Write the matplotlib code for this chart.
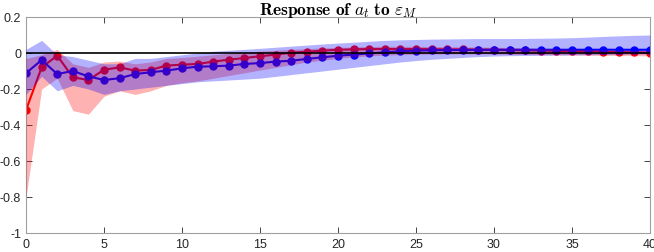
import numpy as np
import matplotlib
matplotlib.use("Agg")
import matplotlib.pyplot as plt

plt.rcParams['mathtext.fontset'] = 'cm'
plt.rcParams['font.family'] = ['Liberation Sans', 'DejaVu Sans']

horizon = list(range(41))

red_irf = [-0.317, -0.08, -0.015, -0.135, -0.15, -0.093, -0.08, -0.098, -0.094, -0.07,
           -0.065, -0.061, -0.048, -0.037, -0.028, -0.018, -0.009, 0.002, 0.007, 0.013,
           0.018, 0.02, 0.022, 0.022, 0.022, 0.022, 0.021, 0.02, 0.02, 0.019,
           0.018, 0.016, 0.015, 0.013, 0.012, 0.010, 0.009, 0.007, 0.005, 0.004, 0.002]
red_upper = [-0.03, -0.01, 0.02, -0.06, -0.08, -0.05, -0.045, -0.06, -0.05, -0.03,
             -0.025, -0.018, -0.01, -0.002, 0.005, 0.01, 0.015, 0.02, 0.024, 0.028,
             0.031, 0.034, 0.036, 0.037, 0.037, 0.037, 0.036, 0.035, 0.034, 0.033,
             0.032, 0.030, 0.028, 0.026, 0.024, 0.022, 0.020, 0.018, 0.016, 0.014, 0.012]
red_lower = [-0.80, -0.20, -0.14, -0.32, -0.34, -0.24, -0.21, -0.23, -0.21, -0.18,
             -0.165, -0.155, -0.14, -0.125, -0.11, -0.095, -0.08, -0.065, -0.05, -0.04,
             -0.03, -0.022, -0.016, -0.012, -0.009, -0.007, -0.006, -0.005, -0.005, -0.005,
             -0.006, -0.007, -0.008, -0.009, -0.01, -0.011, -0.012, -0.013, -0.014, -0.015, -0.016]

blue_irf = [-0.112, -0.039, -0.117, -0.10, -0.13, -0.15, -0.14, -0.117, -0.107, -0.098,
            -0.085, -0.076, -0.074, -0.07, -0.061, -0.056, -0.048, -0.043, -0.033, -0.024,
            -0.015, -0.009, -0.002, 0.004, 0.01, 0.013, 0.015, 0.016, 0.017, 0.017,
            0.018, 0.018, 0.018, 0.018, 0.018, 0.018, 0.018, 0.018, 0.018, 0.018, 0.018]
blue_upper = [0.02, 0.07, -0.01, -0.02, -0.04, -0.06, -0.06, -0.03, -0.03, -0.02,
              -0.01, 0.0, 0.01, 0.015, 0.02, 0.026, 0.032, 0.038, 0.044, 0.05,
              0.055, 0.06, 0.065, 0.07, 0.073, 0.075, 0.077, 0.078, 0.079, 0.08,
              0.08, 0.08, 0.081, 0.082, 0.083, 0.085, 0.088, 0.092, 0.095, 0.098, 0.10]
blue_lower = [-0.23, -0.13, -0.21, -0.18, -0.20, -0.23, -0.21, -0.20, -0.19, -0.18,
              -0.17, -0.16, -0.155, -0.15, -0.145, -0.14, -0.13, -0.12, -0.11, -0.10,
              -0.09, -0.08, -0.07, -0.06, -0.05, -0.042, -0.035, -0.03, -0.025, -0.02,
              -0.017, -0.015, -0.014, -0.013, -0.012, -0.011, -0.01, -0.009, -0.008, -0.006, -0.005]

x_ticks = [0, 5, 10, 15, 20, 25, 30, 35, 40]
y_ticks = [-1, -0.8, -0.6, -0.4, -0.2, 0, 0.2]
y_ticklabels = ['-1', '-0.8', '-0.6', '-0.4', '-0.2', '0', '0.2']

fig = plt.figure(figsize=(6.54, 2.53), dpi=100)
ax = fig.add_axes([0.0398, 0.0751, 0.954, 0.8538])

ax.plot(horizon, red_irf, '-o', color='#ff0000', lw=1.5, ms=5, zorder=2)
ax.plot(horizon, blue_irf, '-o', color='#0000ff', lw=1.5, ms=5, zorder=2)
ax.fill_between(horizon, red_lower, red_upper, color='#ff0000', alpha=0.3, lw=0, zorder=3)
ax.fill_between(horizon, blue_lower, blue_upper, color='#0000ff', alpha=0.3, lw=0, zorder=3)
ax.axhline(0, color='black', lw=1.2, zorder=4)

ax.set_xlim(0, 40)
ax.set_ylim(-1, 0.2)
ax.set_xticks(x_ticks)
ax.set_yticks(y_ticks)
ax.set_yticklabels(y_ticklabels)
ax.tick_params(direction='in', top=True, right=True, labelsize=9, colors='#262626',
               length=4, width=0.6)
for s in ax.spines.values():
    s.set_color('#a0a0a0')
    s.set_linewidth(0.8)

ax.set_title(r"$\mathbf{Response\ of}\ a_t\ \mathbf{to}\ \varepsilon_M$", fontsize=12.5, pad=2)

fig.savefig('out.png', dpi=100)
